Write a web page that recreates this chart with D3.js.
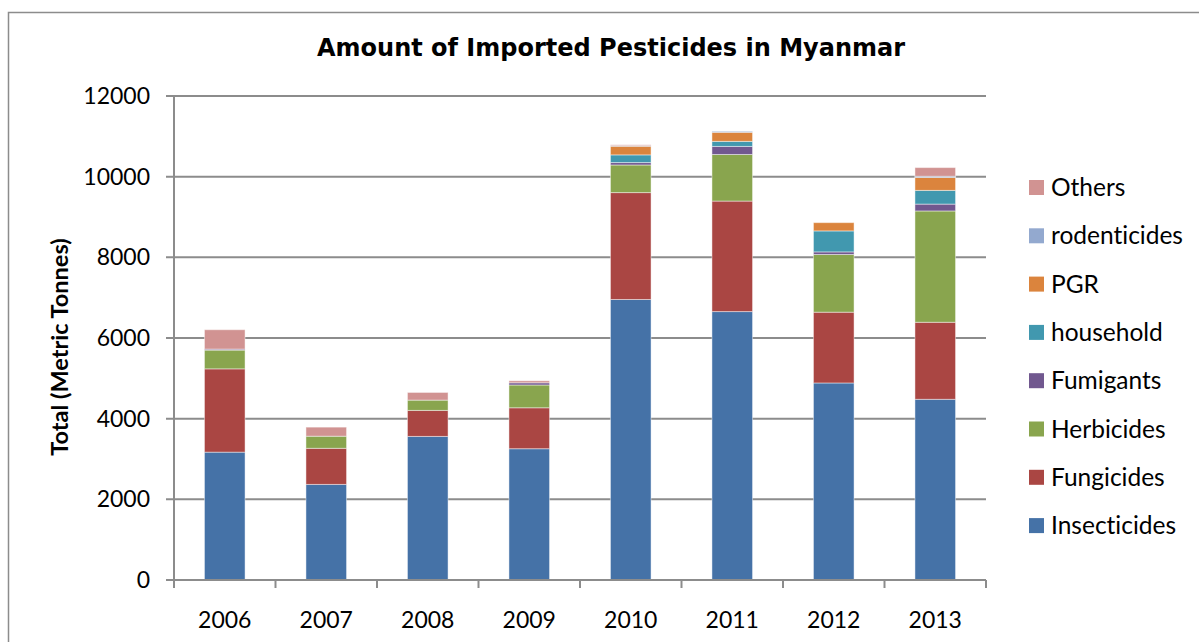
<!DOCTYPE html>
<html>
<head>
<meta charset="utf-8">
<script src="https://cdn.jsdelivr.net/npm/d3@7"></script>
<style>
  body { margin: 0; background: #fff; }
  svg { display: block; }
  text { font-variant-ligatures: none; }
</style>
</head>
<body>
<svg id="chart" width="1199" height="642"></svg>
<script>
// data
const years = ["2006", "2007", "2008", "2009", "2010", "2011", "2012", "2013"];
const seriesNames = ["Insecticides", "Fungicides", "Herbicides", "Fumigants", "household", "PGR", "rodenticides", "Others"];
const insecticides = [3170, 2370, 3560, 3255, 6955, 6655, 4885, 4480];
const fungicides   = [2065, 895, 645, 1015, 2650, 2740, 1755, 1910];
const herbicides   = [465, 300, 255, 565, 685, 1155, 1430, 2760];
const fumigants    = [25, 0, 0, 55, 60, 200, 65, 170];
const household    = [0, 0, 0, 0, 190, 125, 520, 340];
const pgr          = [0, 0, 0, 0, 215, 225, 205, 320];
const rodenticides = [0, 0, 0, 0, 15, 25, 0, 30];
const others       = [480, 225, 190, 50, 20, 0, 0, 215];
const yTicks = [0, 2000, 4000, 6000, 8000, 10000, 12000];

const colors = ["#4572a7", "#aa4643", "#89a54e", "#71588f", "#4198af", "#db843d", "#93a9cf", "#d19392"];
const seriesValues = [insecticides, fungicides, herbicides, fumigants, household, pgr, rodenticides, others];

const table = years.map((y, i) => {
  const row = { year: y };
  seriesNames.forEach((s, j) => row[s] = seriesValues[j][i]);
  return row;
});

const svg = d3.select("#chart");
const margin = { left: 174, right: 213, top: 96, bottom: 62 };
const width = 1199 - margin.left - margin.right;   // 812
const height = 642 - margin.top - margin.bottom;   // 484

// outer chart border
svg.append("rect")
  .attr("x", 8.5).attr("y", 12.5)
  .attr("width", 1300).attr("height", 700)
  .attr("fill", "none")
  .attr("stroke", "#8c8c8c")
  .attr("stroke-width", 1.5);

const g = svg.append("g").attr("transform", `translate(${margin.left},${margin.top})`);

const x = d3.scaleBand().domain(years).range([0, width]).paddingInner(0.6).paddingOuter(0.3);
const y = d3.scaleLinear().domain([0, 12000]).range([height, 0]);

// gridlines
g.append("g")
  .selectAll("line")
  .data(yTicks)
  .join("line")
  .attr("x1", -8).attr("x2", width)
  .attr("y1", d => y(d)).attr("y2", d => y(d))
  .attr("stroke", "#8c8c8c")
  .attr("stroke-width", 2);

// stacked bars
const stack = d3.stack().keys(seriesNames);
const layers = stack(table);

g.append("g")
  .selectAll("g")
  .data(layers)
  .join("g")
  .attr("fill", (d, i) => colors[i])
  .selectAll("rect")
  .data(d => d.filter(p => p[1] - p[0] > 0))
  .join("rect")
  .attr("x", d => x(d.data.year))
  .attr("y", d => y(d[1]))
  .attr("width", x.bandwidth())
  .attr("height", d => y(d[0]) - y(d[1]))
  .attr("stroke", "#ffffff")
  .attr("stroke-opacity", 0.45)
  .attr("stroke-width", 1);

// y axis
const yAxis = d3.axisLeft(y).tickValues(yTicks).tickSize(0).tickPadding(24).tickFormat(d3.format("d"));
const ya = g.append("g").call(yAxis);
ya.select(".domain").remove();
ya.selectAll("text")
  .attr("font-family", "Lato, 'Open Sans', sans-serif")
  .attr("font-size", 23)
  .attr("fill", "#000");
g.append("line")
  .attr("x1", 0).attr("x2", 0)
  .attr("y1", 0).attr("y2", height + 8)
  .attr("stroke", "#8c8c8c").attr("stroke-width", 2);

// x axis
const xa = g.append("g").attr("transform", `translate(0,${height})`)
  .call(d3.axisBottom(x).tickSize(0).tickPadding(32));
xa.select(".domain").remove();
xa.selectAll("text")
  .attr("font-family", "Lato, 'Open Sans', sans-serif")
  .attr("font-size", 23)
  .attr("fill", "#000");
g.append("line")
  .attr("x1", 0).attr("x2", width)
  .attr("y1", height).attr("y2", height)
  .attr("stroke", "#8c8c8c").attr("stroke-width", 2);
// category separators
const step = x.step();
g.append("g")
  .selectAll("line")
  .data(d3.range(years.length + 1))
  .join("line")
  .attr("x1", i => i * step).attr("x2", i => i * step)
  .attr("y1", height).attr("y2", height + 8)
  .attr("stroke", "#8c8c8c").attr("stroke-width", 2);

// title
svg.append("text")
  .attr("x", 611).attr("y", 56)
  .attr("text-anchor", "middle")
  .attr("font-family", "'DejaVu Sans', Verdana, sans-serif")
  .attr("font-weight", "bold")
  .attr("font-size", 24)
  .text("Amount of Imported Pesticides in Myanmar");

// y axis title
svg.append("text")
  .attr("transform", "translate(68,347) rotate(-90)")
  .attr("text-anchor", "middle")
  .attr("font-family", "Lato, 'Open Sans', sans-serif")
  .attr("font-weight", "bold")
  .attr("font-size", 23.5)
  .text("Total (Metric Tonnes)");

// legend, reversed like the reference
const legend = svg.append("g").attr("transform", "translate(1029,180)");
const legendItems = seriesNames.slice().reverse();
const li = legend.selectAll("g")
  .data(legendItems)
  .join("g")
  .attr("transform", (d, i) => `translate(0,${i * 48.3})`);
li.append("rect")
  .attr("width", 15).attr("height", 15)
  .attr("fill", d => colors[seriesNames.indexOf(d)]);
li.append("text")
  .attr("x", 22).attr("y", 16)
  .attr("font-family", "Lato, 'Open Sans', sans-serif")
  .attr("font-size", 24.5)
  .attr("fill", "#000")
  .text(d => d);
</script>
</body>
</html>
